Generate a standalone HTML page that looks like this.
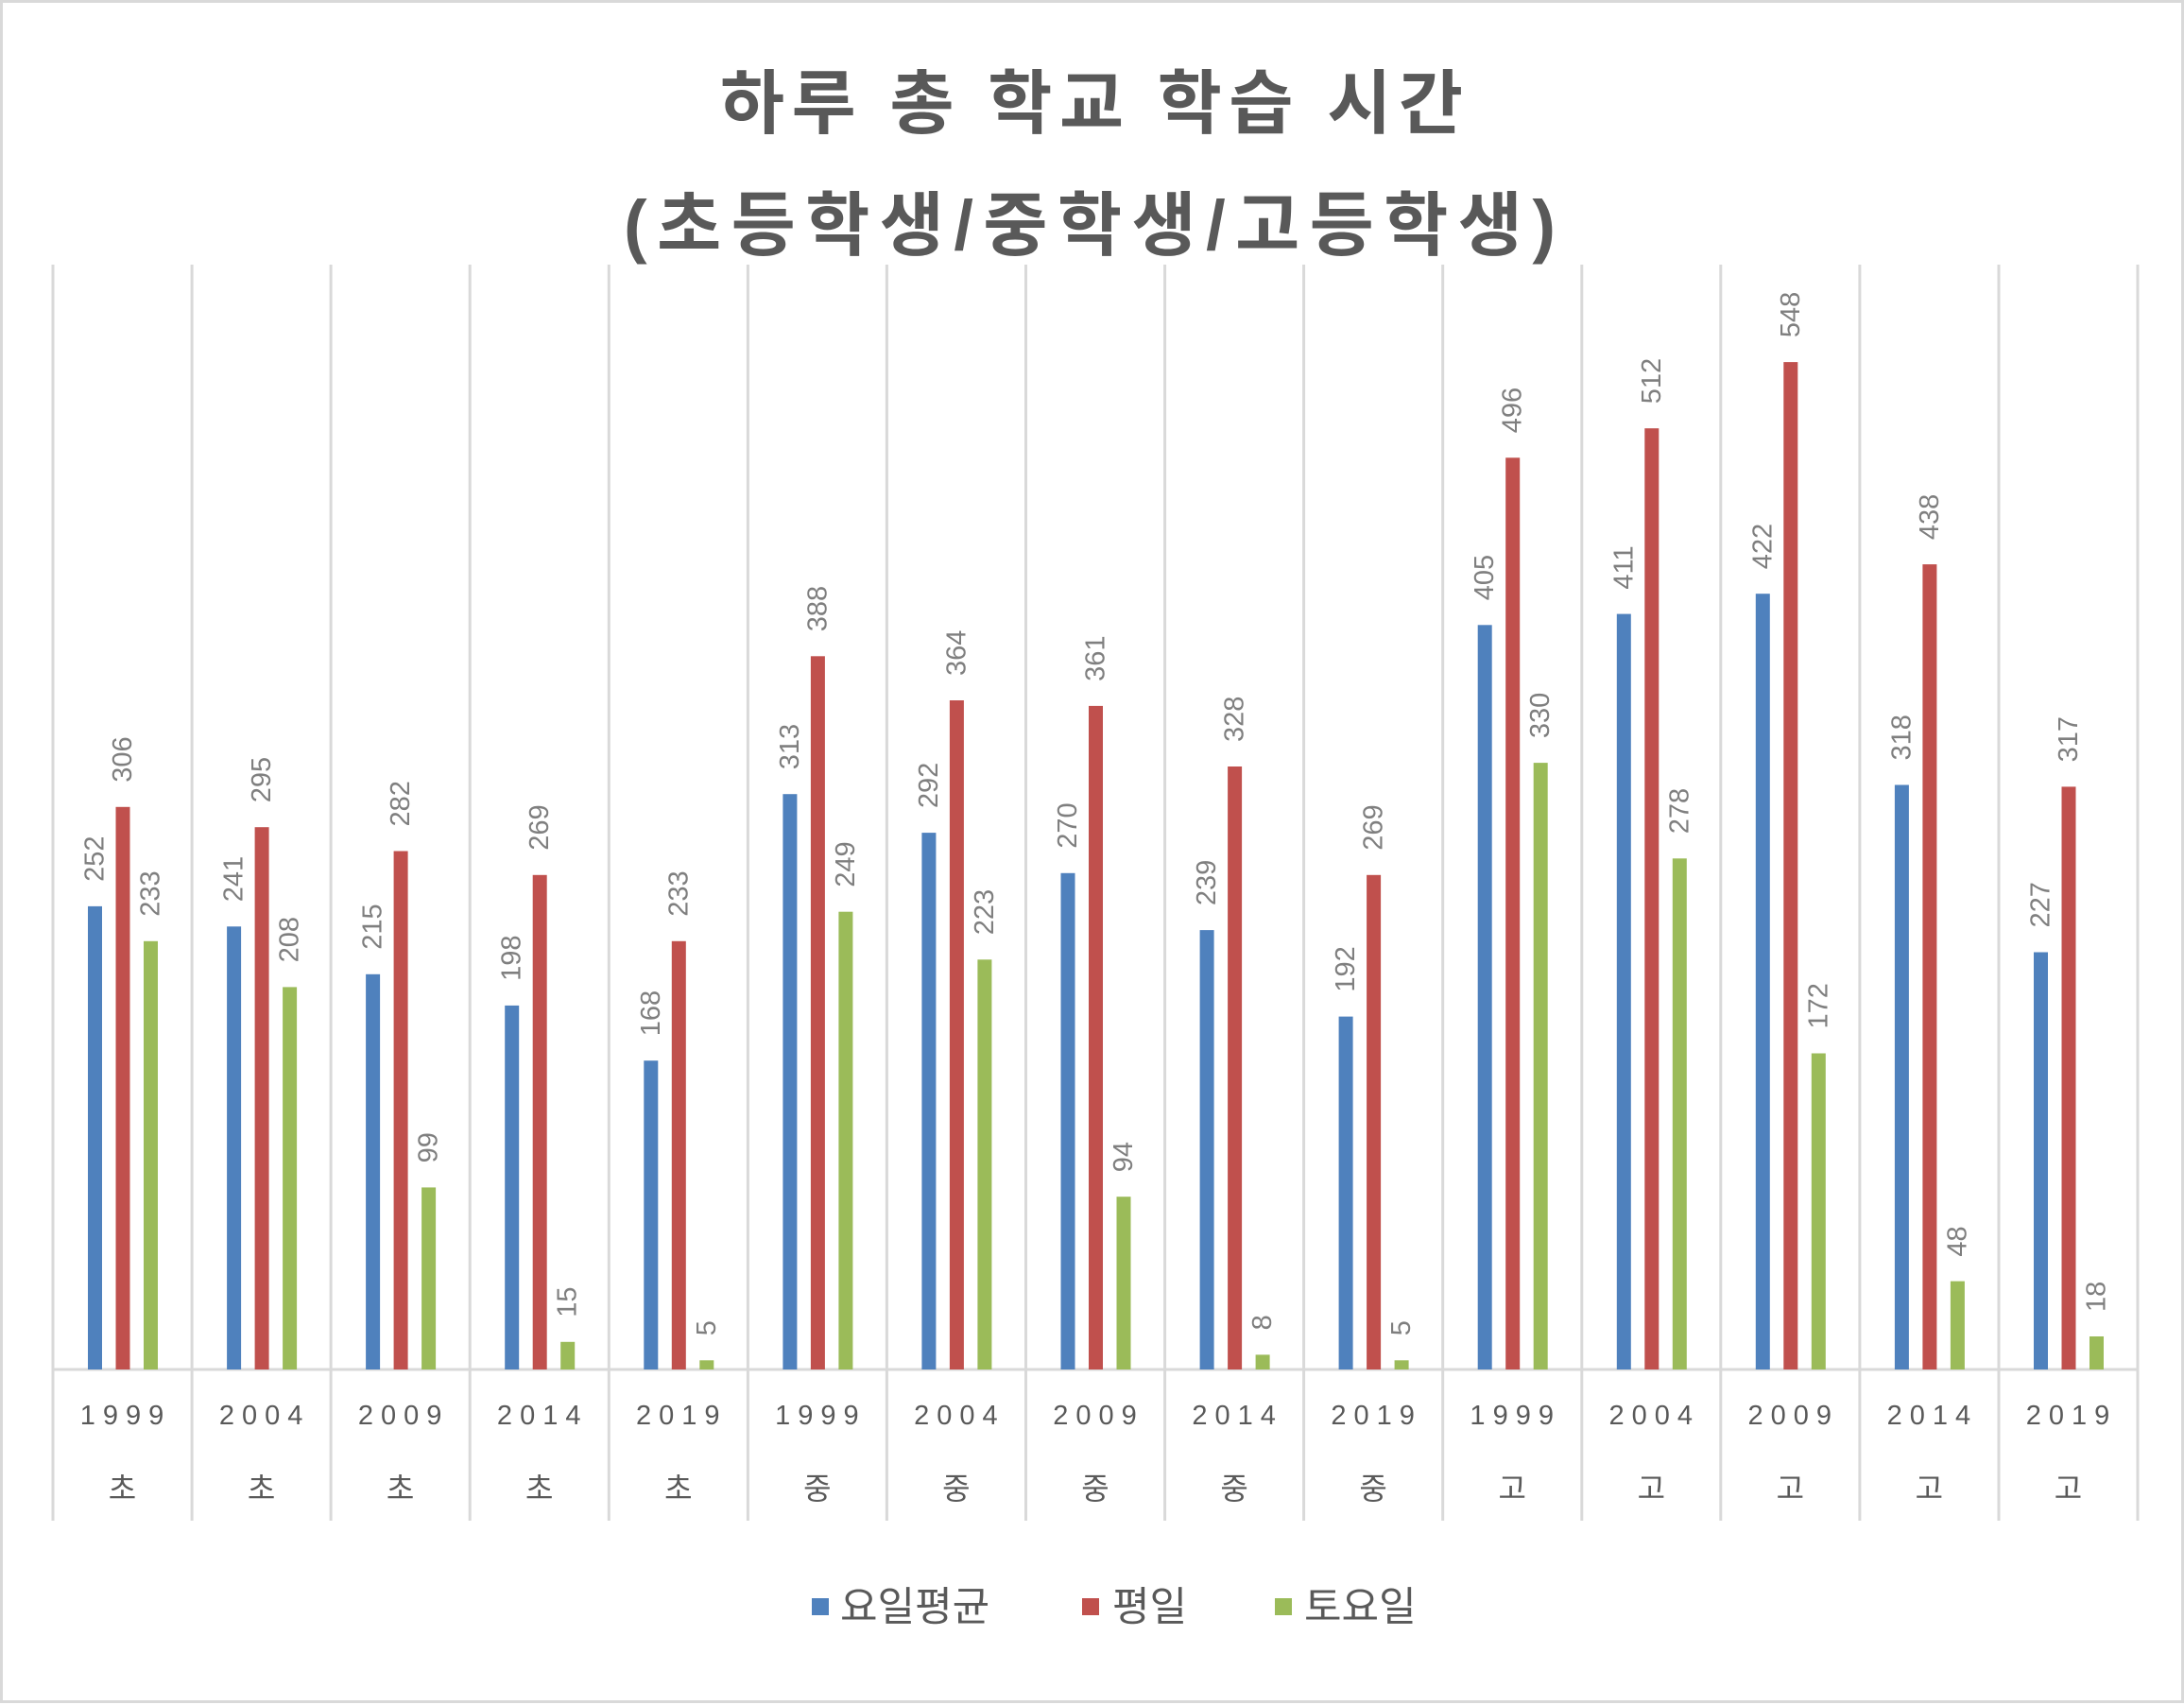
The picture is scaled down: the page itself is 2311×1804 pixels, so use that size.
<!DOCTYPE html>
<html><head><meta charset="utf-8"><style>
html,body{margin:0;padding:0;background:#fff;}
svg{display:block;}
.t{font-family:"Liberation Sans","Noto Sans CJK KR",sans-serif;font-weight:bold;fill:#595959;font-size:74px;}
.v{font-family:"Liberation Sans","Noto Sans CJK KR",sans-serif;fill:#7f7f7f;font-size:29px;}
.y{font-family:"Liberation Sans","Noto Sans CJK KR",sans-serif;fill:#595959;font-size:29px;letter-spacing:8px;}
.c{font-family:"Liberation Sans","Noto Sans CJK KR",sans-serif;fill:#595959;font-size:32px;}
.l{font-family:"Liberation Sans","Noto Sans CJK KR",sans-serif;fill:#595959;font-size:43px;}
</style></head><body>
<svg width="2311" height="1804" viewBox="0 0 2311 1804" xmlns="http://www.w3.org/2000/svg">
<rect x="1.5" y="1.5" width="2308" height="1799" fill="#fff" stroke="#d9d9d9" stroke-width="3"/>
<text class="t" x="1155" y="135" text-anchor="middle" textLength="786" lengthAdjust="spacing">하루 총 학교 학습 시간</text>
<text class="t" x="1153" y="264" text-anchor="middle" textLength="986" lengthAdjust="spacing">(초등학생/중학생/고등학생)</text>
<g stroke="#d9d9d9" stroke-width="3">
<line x1="56" y1="280" x2="56" y2="1609"/><line x1="203.1" y1="280" x2="203.1" y2="1609"/><line x1="350.1" y1="280" x2="350.1" y2="1609"/><line x1="497.2" y1="280" x2="497.2" y2="1609"/><line x1="644.3" y1="280" x2="644.3" y2="1609"/><line x1="791.4" y1="280" x2="791.4" y2="1609"/><line x1="938.4" y1="280" x2="938.4" y2="1609"/><line x1="1085.5" y1="280" x2="1085.5" y2="1609"/><line x1="1232.6" y1="280" x2="1232.6" y2="1609"/><line x1="1379.6" y1="280" x2="1379.6" y2="1609"/><line x1="1526.7" y1="280" x2="1526.7" y2="1609"/><line x1="1673.8" y1="280" x2="1673.8" y2="1609"/><line x1="1820.8" y1="280" x2="1820.8" y2="1609"/><line x1="1967.9" y1="280" x2="1967.9" y2="1609"/><line x1="2115" y1="280" x2="2115" y2="1609"/><line x1="2262" y1="280" x2="2262" y2="1609"/>
<line x1="56" y1="1449" x2="2262" y2="1449"/>
</g>

<g transform="translate(56,0)">
<rect x="37" y="958.9" width="15" height="490.1" fill="#4f81bd"/><rect x="66.5" y="853.8" width="15" height="595.2" fill="#c0504d"/><rect x="96" y="995.8" width="15" height="453.2" fill="#9bbb59"/>
<text class="v" transform="translate(44.5,932.9) rotate(-90)" dominant-baseline="central">252</text><text class="v" transform="translate(74,827.8) rotate(-90)" dominant-baseline="central">306</text><text class="v" transform="translate(103.5,969.8) rotate(-90)" dominant-baseline="central">233</text>
<text class="y" x="77" y="1507" text-anchor="middle">1999</text><text class="c" x="73.5" y="1586" text-anchor="middle">초</text></g>

<g transform="translate(203.1,0)">
<rect x="37" y="980.3" width="15" height="468.7" fill="#4f81bd"/><rect x="66.5" y="875.2" width="15" height="573.8" fill="#c0504d"/><rect x="96" y="1044.4" width="15" height="404.6" fill="#9bbb59"/>
<text class="v" transform="translate(44.5,954.3) rotate(-90)" dominant-baseline="central">241</text><text class="v" transform="translate(74,849.2) rotate(-90)" dominant-baseline="central">295</text><text class="v" transform="translate(103.5,1018.4) rotate(-90)" dominant-baseline="central">208</text>
<text class="y" x="77" y="1507" text-anchor="middle">2004</text><text class="c" x="73.5" y="1586" text-anchor="middle">초</text></g>

<g transform="translate(350.1,0)">
<rect x="37" y="1030.8" width="15" height="418.2" fill="#4f81bd"/><rect x="66.5" y="900.5" width="15" height="548.5" fill="#c0504d"/><rect x="96" y="1256.4" width="15" height="192.6" fill="#9bbb59"/>
<text class="v" transform="translate(44.5,1004.8) rotate(-90)" dominant-baseline="central">215</text><text class="v" transform="translate(74,874.5) rotate(-90)" dominant-baseline="central">282</text><text class="v" transform="translate(103.5,1230.4) rotate(-90)" dominant-baseline="central">99</text>
<text class="y" x="77" y="1507" text-anchor="middle">2009</text><text class="c" x="73.5" y="1586" text-anchor="middle">초</text></g>

<g transform="translate(497.2,0)">
<rect x="37" y="1063.9" width="15" height="385.1" fill="#4f81bd"/><rect x="66.5" y="925.8" width="15" height="523.2" fill="#c0504d"/><rect x="96" y="1419.8" width="15" height="29.2" fill="#9bbb59"/>
<text class="v" transform="translate(44.5,1037.9) rotate(-90)" dominant-baseline="central">198</text><text class="v" transform="translate(74,899.8) rotate(-90)" dominant-baseline="central">269</text><text class="v" transform="translate(103.5,1393.8) rotate(-90)" dominant-baseline="central">15</text>
<text class="y" x="77" y="1507" text-anchor="middle">2014</text><text class="c" x="73.5" y="1586" text-anchor="middle">초</text></g>

<g transform="translate(644.3,0)">
<rect x="37" y="1122.2" width="15" height="326.8" fill="#4f81bd"/><rect x="66.5" y="995.8" width="15" height="453.2" fill="#c0504d"/><rect x="96" y="1439.3" width="15" height="9.7" fill="#9bbb59"/>
<text class="v" transform="translate(44.5,1096.2) rotate(-90)" dominant-baseline="central">168</text><text class="v" transform="translate(74,969.8) rotate(-90)" dominant-baseline="central">233</text><text class="v" transform="translate(103.5,1413.3) rotate(-90)" dominant-baseline="central">5</text>
<text class="y" x="77" y="1507" text-anchor="middle">2019</text><text class="c" x="73.5" y="1586" text-anchor="middle">초</text></g>

<g transform="translate(791.4,0)">
<rect x="37" y="840.2" width="15" height="608.8" fill="#4f81bd"/><rect x="66.5" y="694.3" width="15" height="754.7" fill="#c0504d"/><rect x="96" y="964.7" width="15" height="484.3" fill="#9bbb59"/>
<text class="v" transform="translate(44.5,814.2) rotate(-90)" dominant-baseline="central">313</text><text class="v" transform="translate(74,668.3) rotate(-90)" dominant-baseline="central">388</text><text class="v" transform="translate(103.5,938.7) rotate(-90)" dominant-baseline="central">249</text>
<text class="y" x="77" y="1507" text-anchor="middle">1999</text><text class="c" x="73.5" y="1586" text-anchor="middle">중</text></g>

<g transform="translate(938.4,0)">
<rect x="37" y="881.1" width="15" height="567.9" fill="#4f81bd"/><rect x="66.5" y="741" width="15" height="708" fill="#c0504d"/><rect x="96" y="1015.3" width="15" height="433.7" fill="#9bbb59"/>
<text class="v" transform="translate(44.5,855.1) rotate(-90)" dominant-baseline="central">292</text><text class="v" transform="translate(74,715) rotate(-90)" dominant-baseline="central">364</text><text class="v" transform="translate(103.5,989.3) rotate(-90)" dominant-baseline="central">223</text>
<text class="y" x="77" y="1507" text-anchor="middle">2004</text><text class="c" x="73.5" y="1586" text-anchor="middle">중</text></g>

<g transform="translate(1085.5,0)">
<rect x="37" y="923.8" width="15" height="525.2" fill="#4f81bd"/><rect x="66.5" y="746.9" width="15" height="702.1" fill="#c0504d"/><rect x="96" y="1266.2" width="15" height="182.8" fill="#9bbb59"/>
<text class="v" transform="translate(44.5,897.8) rotate(-90)" dominant-baseline="central">270</text><text class="v" transform="translate(74,720.9) rotate(-90)" dominant-baseline="central">361</text><text class="v" transform="translate(103.5,1240.2) rotate(-90)" dominant-baseline="central">94</text>
<text class="y" x="77" y="1507" text-anchor="middle">2009</text><text class="c" x="73.5" y="1586" text-anchor="middle">중</text></g>

<g transform="translate(1232.6,0)">
<rect x="37" y="984.1" width="15" height="464.9" fill="#4f81bd"/><rect x="66.5" y="811" width="15" height="638" fill="#c0504d"/><rect x="96" y="1433.4" width="15" height="15.6" fill="#9bbb59"/>
<text class="v" transform="translate(44.5,958.1) rotate(-90)" dominant-baseline="central">239</text><text class="v" transform="translate(74,785) rotate(-90)" dominant-baseline="central">328</text><text class="v" transform="translate(103.5,1407.4) rotate(-90)" dominant-baseline="central">8</text>
<text class="y" x="77" y="1507" text-anchor="middle">2014</text><text class="c" x="73.5" y="1586" text-anchor="middle">중</text></g>

<g transform="translate(1379.6,0)">
<rect x="37" y="1075.6" width="15" height="373.4" fill="#4f81bd"/><rect x="66.5" y="925.8" width="15" height="523.2" fill="#c0504d"/><rect x="96" y="1439.3" width="15" height="9.7" fill="#9bbb59"/>
<text class="v" transform="translate(44.5,1049.6) rotate(-90)" dominant-baseline="central">192</text><text class="v" transform="translate(74,899.8) rotate(-90)" dominant-baseline="central">269</text><text class="v" transform="translate(103.5,1413.3) rotate(-90)" dominant-baseline="central">5</text>
<text class="y" x="77" y="1507" text-anchor="middle">2019</text><text class="c" x="73.5" y="1586" text-anchor="middle">중</text></g>

<g transform="translate(1526.7,0)">
<rect x="37" y="661.3" width="15" height="787.7" fill="#4f81bd"/><rect x="66.5" y="484.3" width="15" height="964.7" fill="#c0504d"/><rect x="96" y="807.1" width="15" height="641.9" fill="#9bbb59"/>
<text class="v" transform="translate(44.5,635.3) rotate(-90)" dominant-baseline="central">405</text><text class="v" transform="translate(74,458.3) rotate(-90)" dominant-baseline="central">496</text><text class="v" transform="translate(103.5,781.1) rotate(-90)" dominant-baseline="central">330</text>
<text class="y" x="77" y="1507" text-anchor="middle">1999</text><text class="c" x="73.5" y="1586" text-anchor="middle">고</text></g>

<g transform="translate(1673.8,0)">
<rect x="37" y="649.6" width="15" height="799.4" fill="#4f81bd"/><rect x="66.5" y="453.2" width="15" height="995.8" fill="#c0504d"/><rect x="96" y="908.3" width="15" height="540.7" fill="#9bbb59"/>
<text class="v" transform="translate(44.5,623.6) rotate(-90)" dominant-baseline="central">411</text><text class="v" transform="translate(74,427.2) rotate(-90)" dominant-baseline="central">512</text><text class="v" transform="translate(103.5,882.3) rotate(-90)" dominant-baseline="central">278</text>
<text class="y" x="77" y="1507" text-anchor="middle">2004</text><text class="c" x="73.5" y="1586" text-anchor="middle">고</text></g>

<g transform="translate(1820.8,0)">
<rect x="37" y="628.2" width="15" height="820.8" fill="#4f81bd"/><rect x="66.5" y="383.1" width="15" height="1065.9" fill="#c0504d"/><rect x="96" y="1114.5" width="15" height="334.5" fill="#9bbb59"/>
<text class="v" transform="translate(44.5,602.2) rotate(-90)" dominant-baseline="central">422</text><text class="v" transform="translate(74,357.1) rotate(-90)" dominant-baseline="central">548</text><text class="v" transform="translate(103.5,1088.5) rotate(-90)" dominant-baseline="central">172</text>
<text class="y" x="77" y="1507" text-anchor="middle">2009</text><text class="c" x="73.5" y="1586" text-anchor="middle">고</text></g>

<g transform="translate(1967.9,0)">
<rect x="37" y="830.5" width="15" height="618.5" fill="#4f81bd"/><rect x="66.5" y="597.1" width="15" height="851.9" fill="#c0504d"/><rect x="96" y="1355.6" width="15" height="93.4" fill="#9bbb59"/>
<text class="v" transform="translate(44.5,804.5) rotate(-90)" dominant-baseline="central">318</text><text class="v" transform="translate(74,571.1) rotate(-90)" dominant-baseline="central">438</text><text class="v" transform="translate(103.5,1329.6) rotate(-90)" dominant-baseline="central">48</text>
<text class="y" x="77" y="1507" text-anchor="middle">2014</text><text class="c" x="73.5" y="1586" text-anchor="middle">고</text></g>

<g transform="translate(2115,0)">
<rect x="37" y="1007.5" width="15" height="441.5" fill="#4f81bd"/><rect x="66.5" y="832.4" width="15" height="616.6" fill="#c0504d"/><rect x="96" y="1414" width="15" height="35" fill="#9bbb59"/>
<text class="v" transform="translate(44.5,981.5) rotate(-90)" dominant-baseline="central">227</text><text class="v" transform="translate(74,806.4) rotate(-90)" dominant-baseline="central">317</text><text class="v" transform="translate(103.5,1388) rotate(-90)" dominant-baseline="central">18</text>
<text class="y" x="77" y="1507" text-anchor="middle">2019</text><text class="c" x="73.5" y="1586" text-anchor="middle">고</text></g>

<rect x="859" y="1691" width="18" height="18" fill="#4f81bd"/>
<text class="l" x="889" y="1715">요일평균</text>
<rect x="1145" y="1691" width="18" height="18" fill="#c0504d"/>
<text class="l" x="1177" y="1715">평일</text>
<rect x="1349" y="1691" width="18" height="18" fill="#9bbb59"/>
<text class="l" x="1380" y="1715">토요일</text>
</svg>
</body></html>
